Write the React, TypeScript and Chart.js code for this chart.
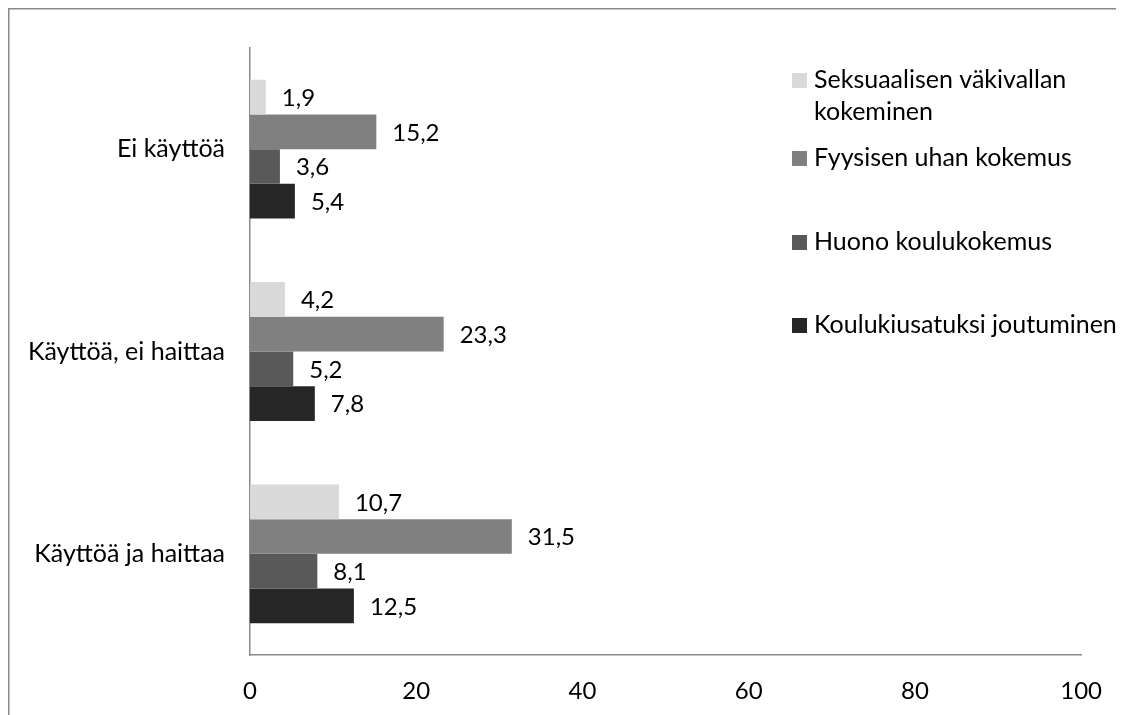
import React, { useEffect, useRef } from "react";
import { Chart, registerables } from "chart.js";

Chart.register(...registerables);

const categories = ["Ei käyttöä", "Käyttöä, ei haittaa", "Käyttöä ja haittaa"];
const seriesNames = [
  "Seksuaalisen väkivallan kokeminen",
  "Fyysisen uhan kokemus",
  "Huono koulukokemus",
  "Koulukiusatuksi joutuminen",
];
const seksuaalinen = [1.9, 4.2, 10.7];
const fyysinen = [15.2, 23.3, 31.5];
const huonoKoulu = [3.6, 5.2, 8.1];
const kiusattu = [5.4, 7.8, 12.5];
const seriesColors = ["#d9d9d9", "#808080", "#595959", "#262626"];
const xTicks = [0, 20, 40, 60, 80, 100];

// legend text split into drawn lines, with baselines in canvas px
const legendLines = [
  ["Seksuaalisen väkivallan", "kokeminen"],
  ["Fyysisen uhan kokemus"],
  ["Huono koulukokemus"],
  ["Koulukiusatuksi joutuminen"],
];
const legendBaselines = [80, 158, 242, 325];

const FONT = "Lato, 'Open Sans', sans-serif";
const TEXT_SIZE = 25;
const NUM_SIZE = 24;
const AXIS_GRAY = "#898989";

const framePlugin = {
  id: "frame",
  beforeDraw(chart: any) {
    const ctx = chart.ctx;
    ctx.save();
    ctx.strokeStyle = AXIS_GRAY;
    ctx.lineWidth = 1.5;
    ctx.beginPath();
    ctx.moveTo(0.75, chart.height);
    ctx.lineTo(0.75, 0.75);
    ctx.lineTo(chart.width, 0.75);
    ctx.stroke();
    ctx.restore();
  },
};

const valueLabelPlugin = {
  id: "valueLabels",
  afterDatasetsDraw(chart: any) {
    const ctx = chart.ctx;
    ctx.save();
    ctx.font = `${NUM_SIZE}px ${FONT}`;
    ctx.fillStyle = "#000";
    ctx.textAlign = "left";
    ctx.textBaseline = "middle";
    chart.data.datasets.forEach((ds: any, i: number) => {
      const meta = chart.getDatasetMeta(i);
      meta.data.forEach((bar: any, j: number) => {
        const v = ds.data[j] as number;
        ctx.fillText(v.toFixed(1).replace(".", ","), bar.x + 16, bar.y + 1);
      });
    });
    ctx.restore();
  },
};

const legendPlugin = {
  id: "sideLegend",
  afterDraw(chart: any) {
    const ctx = chart.ctx;
    ctx.save();
    ctx.font = `${TEXT_SIZE}px ${FONT}`;
    ctx.textAlign = "left";
    ctx.textBaseline = "alphabetic";
    legendLines.forEach((lines, i) => {
      const base = legendBaselines[i];
      ctx.fillStyle = seriesColors[i];
      ctx.fillRect(784, base - 15, 15, 15);
      ctx.fillStyle = "#000";
      lines.forEach((line, k) => {
        ctx.fillText(line, 806, base + k * 32);
      });
    });
    ctx.restore();
  },
};

export default function App() {
  const canvasRef = useRef<HTMLCanvasElement | null>(null);

  useEffect(() => {
    if (!canvasRef.current) return;
    const values = [seksuaalinen, fyysinen, huonoKoulu, kiusattu];
    const chart = new Chart(canvasRef.current, {
      type: "bar",
      data: {
        labels: categories,
        datasets: seriesNames.map((name, i) => ({
          label: name,
          data: values[i],
          backgroundColor: seriesColors[i],
          borderWidth: 0,
          barPercentage: 1,
          categoryPercentage: 0.686,
        })),
      },
      options: {
        indexAxis: "y",
        animation: false,
        responsive: true,
        maintainAspectRatio: false,
        layout: { padding: { top: 30, right: 40, bottom: 0, left: 0 } },
        plugins: {
          legend: { display: false },
          tooltip: { enabled: false },
        },
        scales: {
          x: {
            min: 0,
            max: 100,
            afterBuildTicks: (scale: any) => {
              scale.ticks = xTicks.map((v) => ({ value: v }));
            },
            afterFit: (scale: any) => {
              scale.height = 60;
            },
            grid: { display: false, drawTicks: false },
            border: { display: true, color: AXIS_GRAY, width: 1.5 },
            ticks: {
              padding: 22,
              color: "#000",
              font: { family: FONT, size: NUM_SIZE },
              maxRotation: 0,
            },
          },
          y: {
            afterFit: (scale: any) => {
              scale.width = 242;
            },
            grid: { display: false, drawTicks: false },
            border: { display: true, color: AXIS_GRAY, width: 1.5 },
            ticks: {
              padding: 25,
              color: "#000",
              font: { family: FONT, size: TEXT_SIZE },
            },
          },
        },
      },
      plugins: [framePlugin, valueLabelPlugin, legendPlugin],
    });
    return () => chart.destroy();
  }, []);

  return (
    <div style={{ position: "relative", width: "1116px", height: "707px" }}>
      <canvas ref={canvasRef} />
    </div>
  );
}
